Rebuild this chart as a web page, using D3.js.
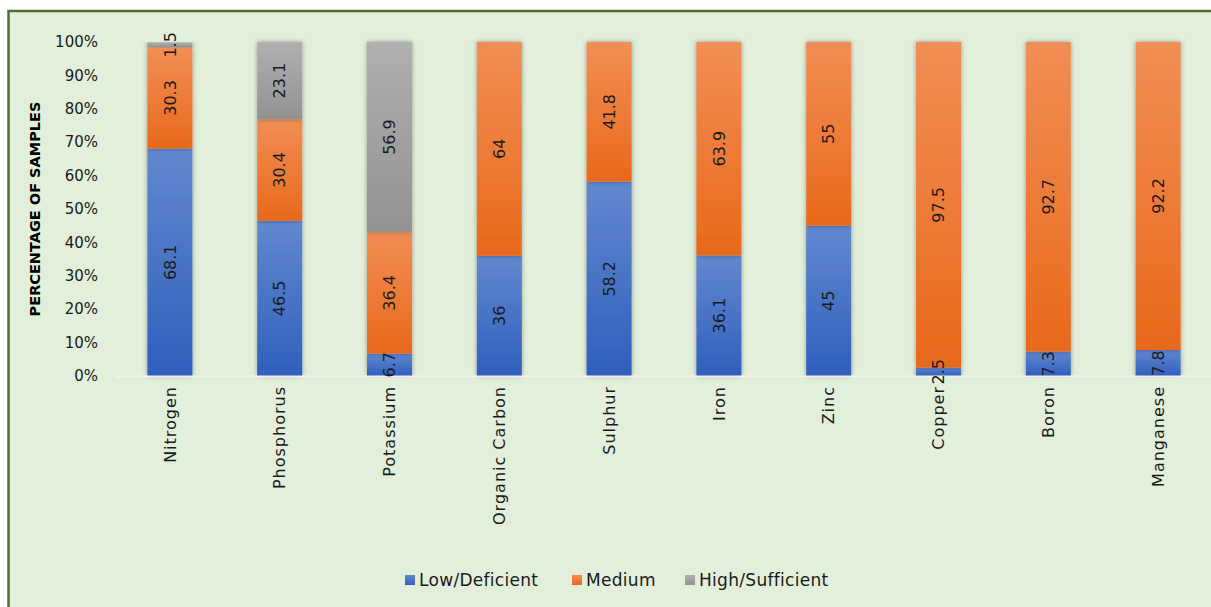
<!DOCTYPE html>
<html>
<head>
<meta charset="utf-8">
<script src="https://cdn.jsdelivr.net/npm/d3@7"></script>
<style>
  html, body { margin: 0; padding: 0; background: #ffffff; }
  svg { display: block; font-family: "DejaVu Sans", "Open Sans", sans-serif; }
</style>
</head>
<body>
<svg id="chart" width="1211" height="607"></svg>
<script>
// Nutrient status of soil samples (percentage)
const categories = ["Nitrogen", "Phosphorus", "Potassium", "Organic Carbon", "Sulphur",
                    "Iron", "Zinc", "Copper", "Boron", "Manganese"];
const lowValues = [68.1, 46.5, 6.7, 36, 58.2, 36.1, 45, 2.5, 7.3, 7.8];
const mediumValues = [30.3, 30.4, 36.4, 64, 41.8, 63.9, 55, 97.5, 92.7, 92.2];
const highValues = [1.5, 23.1, 56.9, 0, 0, 0, 0, 0, 0, 0];
const seriesNames = ["Low/Deficient", "Medium", "High/Sufficient"];
const yTicks = [0, 10, 20, 30, 40, 50, 60, 70, 80, 90, 100];

const seriesStyle = [
  { id: "gLow", top: "#6288cf", bottom: "#2f5fbd" },
  { id: "gMed", top: "#f28e55", bottom: "#e8691a" },
  { id: "gHigh", top: "#b0b0b0", bottom: "#929292" }
];
const seriesValues = [lowValues, mediumValues, highValues];

const svg = d3.select("#chart");
const W = 1211, H = 607;

// Frame
svg.append("rect").attr("x", 8.5).attr("y", 11).attr("width", W + 10).attr("height", H + 10)
  .attr("fill", "#e2efda").attr("stroke", "#4f6f2f").attr("stroke-width", 2.5);

const defs = svg.append("defs");
seriesStyle.forEach(s => {
  const lg = defs.append("linearGradient").attr("id", s.id)
    .attr("x1", 0).attr("y1", 0).attr("x2", 0).attr("y2", 1);
  lg.append("stop").attr("offset", "0%").attr("stop-color", s.top);
  lg.append("stop").attr("offset", "100%").attr("stop-color", s.bottom);
});
const shadow = defs.append("filter").attr("id", "shadow")
  .attr("x", "-30%").attr("y", "-5%").attr("width", "160%").attr("height", "110%");
shadow.append("feDropShadow").attr("dx", 0).attr("dy", 0).attr("stdDeviation", 2.5)
  .attr("flood-color", "#000").attr("flood-opacity", 0.35);

const x = d3.scaleBand().domain(categories).range([115, 1213]).paddingInner(0.59).paddingOuter(0.295);
const y = d3.scaleLinear().domain([0, 100]).range([376, 42]);

// Y axis labels
svg.append("g").selectAll("text").data(yTicks).join("text")
  .attr("x", 98).attr("y", d => y(d)).attr("dy", "0.35em")
  .attr("text-anchor", "end").attr("font-size", 15).attr("fill", "#1a1a1a")
  .text(d => d + "%");

svg.append("text")
  .attr("transform", `translate(35,${y(50)}) rotate(-90)`)
  .attr("text-anchor", "middle").attr("dy", "0.35em").attr("font-size", 14.5).attr("font-weight", "bold")
  .attr("fill", "#000").text("PERCENTAGE OF SAMPLES");

// Stack data
const rows = categories.map((c, i) => ({ cat: c, idx: i, 0: lowValues[i], 1: mediumValues[i], 2: highValues[i] }));
const stack = d3.stack().keys([0, 1, 2])(rows);

const layers = svg.append("g").selectAll("g").data(stack).join("g")
  .attr("fill", (d, i) => `url(#${seriesStyle[i].id})`);

layers.selectAll("rect").data(d => d.filter(p => p[1] - p[0] > 0)).join("rect")
  .attr("x", d => x(d.data.cat))
  .attr("width", x.bandwidth())
  .attr("y", d => y(d[1]))
  .attr("height", d => y(d[0]) - y(d[1]))
  .attr("filter", "url(#shadow)");

// Baseline
svg.append("line").attr("x1", 115).attr("x2", 1213).attr("y1", y(0) + 0.5).attr("y2", y(0) + 0.5)
  .attr("stroke", "#f2f2f2").attr("stroke-width", 2);

// Data labels
const labels = svg.append("g");
stack.forEach((layer, k) => {
  layer.forEach(p => {
    const v = seriesValues[k][p.data.idx];
    if (v <= 0) return;
    const cx = x(p.data.cat) + x.bandwidth() / 2;
    const cy = (y(p[0]) + y(p[1])) / 2;
    labels.append("text")
      .attr("transform", `translate(${cx},${cy}) rotate(-90)`)
      .attr("text-anchor", "middle").attr("dy", "0.35em")
      .attr("font-size", 16).attr("fill", "#1a1a1a")
      .text(v);
  });
});

// Category labels
svg.append("g").selectAll("text").data(categories).join("text")
  .attr("transform", d => `translate(${x(d) + x.bandwidth() / 2},386) rotate(-90)`)
  .attr("text-anchor", "end").attr("dy", "0.35em")
  .attr("font-size", 16).attr("letter-spacing", 1).attr("fill", "#1a1a1a")
  .text(d => d);

// Legend
const legendX = [405, 572, 685];
const legend = svg.append("g").selectAll("g").data(seriesNames).join("g")
  .attr("transform", (d, i) => `translate(${legendX[i]},580)`);
legend.append("rect").attr("x", 0).attr("y", -5).attr("width", 10).attr("height", 10)
  .attr("fill", (d, i) => `url(#${seriesStyle[i].id})`);
legend.append("text").attr("x", 14).attr("dy", "0.35em")
  .attr("font-size", 17).attr("letter-spacing", 0.3).attr("fill", "#1a1a1a").text(d => d);
</script>
</body>
</html>
